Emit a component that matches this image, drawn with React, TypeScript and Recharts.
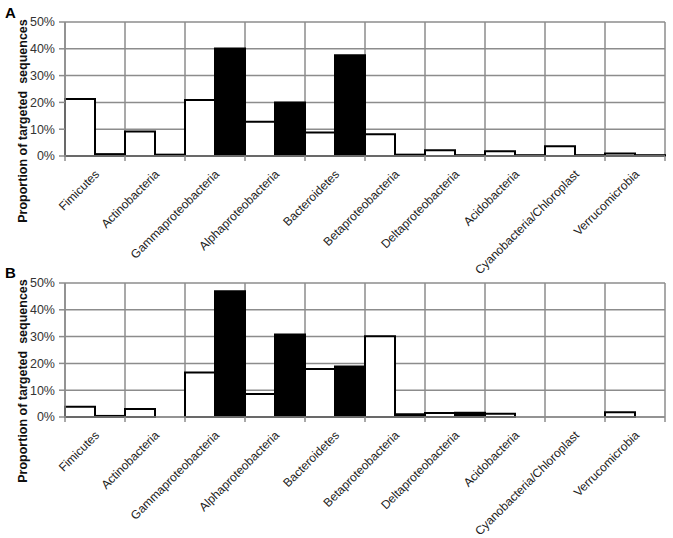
import React from "react"
import { Bar, BarChart, CartesianGrid, XAxis, YAxis } from "recharts"

const categories = [
  "Fimicutes",
  "Actinobacteria",
  "Gammaproteobacteria",
  "Alphaproteobacteria",
  "Bacteroidetes",
  "Betaproteobacteria",
  "Deltaproteobacteria",
  "Acidobacteria",
  "Cyanobacteria/Chloroplast",
  "Verrucomicrobia",
]

// panel A
const panelAWhite = [21.3, 9.1, 20.9, 12.8, 8.8, 8.1, 2.1, 1.8, 3.6, 0.9]
const panelABlack = [0.7, 0.5, 40.1, 20.0, 37.6, 0.5, 0.3, 0.3, 0.3, 0.3]

// panel B
const panelBWhite = [3.8, 3.0, 16.6, 8.6, 17.9, 30.1, 1.5, 1.2, 0, 1.8]
const panelBBlack = [0.4, 0, 46.9, 30.8, 18.8, 1.0, 1.6, 0, 0, 0]

const yTicks = [0, 10, 20, 30, 40, 50]

const FONT = "'Liberation Sans', Arial, sans-serif"
const GRID = "#8c8c8c"

// vertical grid lines sit on the category boundaries, not the centres
const boundaryLines = ({ offset }: any) =>
  Array.from({ length: categories.length + 1 }, (_, i) => offset.left + (offset.width * i) / categories.length)

const CategoryTick = (props: any) => {
  const { x, y, payload, index } = props
  const half = 30
  const top = y - 8
  return (
    <g>
      <line x1={x - half} x2={x - half} y1={top} y2={top + 5} stroke={GRID} strokeWidth={1.5} />
      {index === categories.length - 1 && (
        <line x1={x + half} x2={x + half} y1={top} y2={top + 5} stroke={GRID} strokeWidth={1.5} />
      )}
      <text
        x={x + 2}
        y={y + 8}
        transform={`rotate(-45 ${x + 2} ${y + 8})`}
        textAnchor="end"
        dy="0.35em"
        fontSize={12}
        fontFamily={FONT}
        fill="#222"
      >
        {payload.value}
      </text>
    </g>
  )
}

const YLabel = () => (
  <text
    x={23}
    y={121}
    transform="rotate(-90 23 121)"
    textAnchor="middle"
    dominantBaseline="central"
    fontSize={12.5}
    fontWeight="bold"
    fontFamily={FONT}
    fill="#111"
    style={{ whiteSpace: "pre" }}
  >
    {"Proportion of targeted  sequences"}
  </text>
)

const Panel = ({
  white,
  black,
  height,
  top,
}: {
  white: number[]
  black: number[]
  height: number
  top: number
}) => {
  const data = categories.map((name, i) => ({ name, white: white[i], black: black[i] }))
  return (
    <BarChart
      width={673}
      height={height}
      data={data}
      margin={{ top, right: 8, left: 0, bottom: 0 }}
      barCategoryGap={0}
      barGap={0}
    >
      <CartesianGrid stroke={GRID} strokeWidth={1.5} verticalCoordinatesGenerator={boundaryLines} />
      <XAxis
        dataKey="name"
        interval={0}
        height={height - top - 134}
        axisLine={{ stroke: GRID, strokeWidth: 1.5 }}
        tickLine={false}
        tick={<CategoryTick />}
      />
      <YAxis
        width={65}
        domain={[0, 50]}
        ticks={yTicks}
        tickFormatter={(v) => `${v}%`}
        tickSize={6}
        tickMargin={4}
        axisLine={{ stroke: GRID, strokeWidth: 1.5 }}
        tickLine={{ stroke: GRID, strokeWidth: 1.5 }}
        tick={{ fontSize: 12.5, fontFamily: FONT, fill: "#333" }}
        label={<YLabel />}
      />
      <Bar dataKey="white" fill="#fff" stroke="#000" strokeWidth={2} isAnimationActive={false} />
      <Bar dataKey="black" fill="#000" stroke="#000" strokeWidth={2} isAnimationActive={false} />
    </BarChart>
  )
}

const letterStyle: React.CSSProperties = {
  position: "absolute",
  left: 5,
  fontFamily: FONT,
  fontWeight: "bold",
  fontSize: 15,
  lineHeight: "15px",
}

export default function App() {
  return (
    <div style={{ position: "absolute", left: 0, top: 0, width: 673, height: 538, background: "#fff" }}>
      <div style={{ position: "absolute", left: 0, top: 260 }}>
        <Panel white={panelBWhite} black={panelBBlack} height={278} top={23} />
      </div>
      {/* panel A is taller than its slot so its longest label can run into panel B's top margin */}
      <div style={{ position: "absolute", left: 0, top: 0, pointerEvents: "none" }}>
        <Panel white={panelAWhite} black={panelABlack} height={280} top={22} />
      </div>
      <div style={{ ...letterStyle, top: 5 }}>A</div>
      <div style={{ ...letterStyle, top: 265 }}>B</div>
    </div>
  )
}
